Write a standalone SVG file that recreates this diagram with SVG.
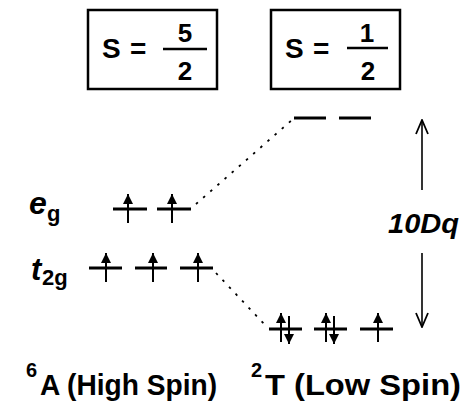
<svg xmlns="http://www.w3.org/2000/svg" width="462" height="419" viewBox="0 0 462 419">
<defs>
<style>
.t{font-family:"Liberation Sans",Arial,Helvetica,sans-serif;font-weight:bold;fill:#000}
.it{font-style:italic}
.box{fill:none;stroke:#000;stroke-width:2.5}
.lvl{stroke:#000;stroke-width:3;fill:none}
.bar{stroke:#000;stroke-width:2.5}
.sp{stroke:#000;stroke-width:2;fill:none}
.dot{stroke:#000;stroke-width:1.8;stroke-dasharray:2.5 7;fill:none}
.gap{stroke:#000;stroke-width:1.6;fill:none}
</style>
<marker id="up" viewBox="0 0 10 10" refX="10" refY="5" markerWidth="10" markerHeight="10" markerUnits="userSpaceOnUse" orient="auto">
<path d="M0,0 L10,5 L0,10 Z" fill="#000"/>
</marker>
<marker id="open" viewBox="0 0 16 14" refX="15" refY="7" markerWidth="16" markerHeight="14" markerUnits="userSpaceOnUse" orient="auto">
<path d="M1,1 L15,7 L1,13" fill="none" stroke="#000" stroke-width="1.8"/>
</marker>
<g id="upE"><line class="sp" x1="0" y1="15" x2="0" y2="-14" marker-end="url(#up)"/></g>
<g id="dnE"><line class="sp" x1="0" y1="-13" x2="0" y2="15" marker-end="url(#up)"/></g>
</defs>

<g id="box-high">
<rect class="box" x="88" y="10" width="129" height="79"/>
<text class="t" x="102" y="58" font-size="28">S</text>
<text class="t" x="130" y="58" font-size="28">=</text>
<line class="bar" x1="163" y1="49" x2="207" y2="49"/>
<text class="t" x="185" y="42" font-size="26" text-anchor="middle">5</text>
<text class="t" x="185" y="80" font-size="26" text-anchor="middle">2</text>
</g>

<g id="box-low">
<rect class="box" x="271" y="10" width="129" height="79"/>
<text class="t" x="285" y="58" font-size="28">S</text>
<text class="t" x="313" y="58" font-size="28">=</text>
<line class="bar" x1="347" y1="48" x2="388" y2="48"/>
<text class="t" x="367" y="42" font-size="26" text-anchor="middle">1</text>
<text class="t" x="368" y="80" font-size="26" text-anchor="middle">2</text>
</g>

<g id="label-eg">
<text class="t it" x="29" y="214" font-size="32">e</text>
<text class="t" x="47" y="221" font-size="22">g</text>
</g>
<g id="label-t2g">
<text class="t it" x="31" y="280" font-size="31">t</text>
<text class="t" x="42" y="285" font-size="22">2g</text>
</g>

<g id="hs-eg">
<line class="lvl" x1="113" y1="209" x2="147" y2="209"/>
<line class="lvl" x1="157" y1="209" x2="191" y2="209"/>
<use href="#upE" x="128" y="208"/>
<use href="#upE" x="172" y="208"/>
</g>

<g id="hs-t2g">
<line class="lvl" x1="89" y1="268" x2="122" y2="268"/>
<line class="lvl" x1="135" y1="268" x2="167" y2="268"/>
<line class="lvl" x1="180" y1="268" x2="213" y2="268"/>
<use href="#upE" x="106" y="267"/>
<use href="#upE" x="153" y="267"/>
<use href="#upE" x="198" y="267"/>
</g>

<g id="ls-eg">
<line class="lvl" x1="294" y1="118" x2="326" y2="118"/>
<line class="lvl" x1="339" y1="118" x2="371" y2="118"/>
</g>

<g id="ls-t2g">
<line class="lvl" x1="269" y1="329" x2="302" y2="329"/>
<line class="lvl" x1="314" y1="329" x2="347" y2="329"/>
<line class="lvl" x1="360" y1="329" x2="393" y2="329"/>
<use href="#upE" x="281" y="327"/>
<use href="#dnE" x="289" y="329"/>
<use href="#upE" x="326" y="327"/>
<use href="#dnE" x="334" y="329"/>
<use href="#upE" x="378" y="327"/>
</g>

<g id="connectors">
<line class="dot" x1="196" y1="204" x2="292" y2="120"/>
<line class="dot" x1="216" y1="273" x2="266" y2="326"/>
<line class="gap" x1="422" y1="190" x2="422" y2="120" marker-end="url(#open)"/>
<line class="gap" x1="422" y1="253" x2="422" y2="327" marker-end="url(#open)"/>
</g>

<g id="label-gap">
<text class="t it" x="388" y="233" font-size="27" textLength="71" lengthAdjust="spacingAndGlyphs">10Dq</text>
</g>

<g id="label-bottom">
<text class="t" x="26" y="377" font-size="20">6</text>
<text class="t" x="40" y="395" font-size="29" textLength="177" lengthAdjust="spacingAndGlyphs">A (High Spin)</text>
<text class="t" x="251" y="377" font-size="20">2</text>
<text class="t" x="265" y="395" font-size="30" textLength="196" lengthAdjust="spacingAndGlyphs">T (Low Spin)</text>
</g>
</svg>
